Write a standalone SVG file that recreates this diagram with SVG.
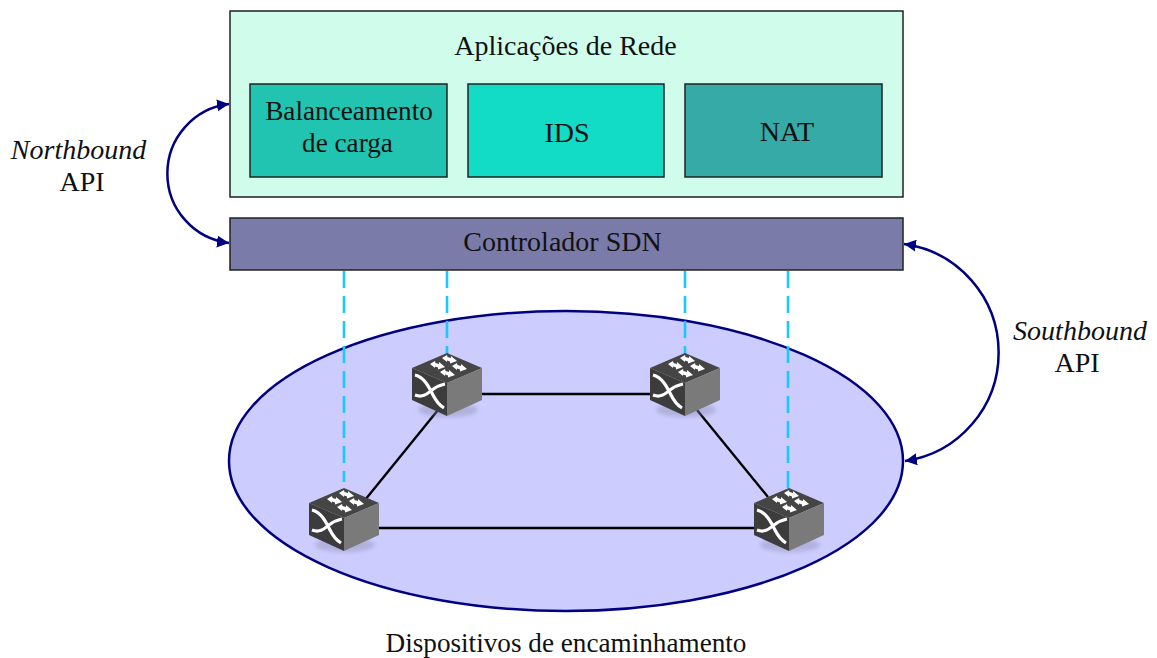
<svg xmlns="http://www.w3.org/2000/svg" width="1157" height="658" viewBox="0 0 1157 658">
<style>
text{font-family:"Liberation Serif","Times New Roman",serif;font-size:28px;fill:#111;text-anchor:middle}
.i{font-style:italic}
.s{font-size:27.200px}
.box{stroke:#222;stroke-width:1.5}
.arc{fill:none;stroke:#000080;stroke-width:2.500}
.dash{stroke:#18c8ff;stroke-width:2.600;stroke-dasharray:17 8;fill:none}
.link{stroke:#000;stroke-width:2.400;fill:none}
</style>
<defs>
<marker id="ah" markerUnits="userSpaceOnUse" markerWidth="13" markerHeight="12" refX="12" refY="6" orient="auto-start-reverse"><path d="M0,0L12,6L0,12Z" fill="#000080"/></marker>
<filter id="sh" x="-20%" y="-40%" width="140%" height="180%"><feGaussianBlur stdDeviation="2"/></filter>
<path id="da" d="M0,0L5,-3L5.500,-1L9,0L9,-2L15,3L8,5.500L8,3.500L5,2.500L5,4Z" fill="#fff"/>
<g id="sw">
<ellipse cx="36" cy="54" rx="30" ry="7" fill="#8888aa" opacity=".4" filter="url(#sh)"/>
<path d="M0,12L35,-3L70,12L35,27Z" fill="#454545"/>
<path d="M0,12L35,27V60L0,44Z" fill="#3c3c3c"/>
<path d="M35,27L70,12V44L35,60Z" fill="#7a7a7a"/>
<use href="#da" x="18" y="8"/><use href="#da" x="30" y="2"/><use href="#da" x="28" y="16"/><use href="#da" x="40" y="10"/>
<path d="M3,19C12,21 17,31 21,39C24,45 27,49 32,52M3,39C11,42 15,38 20,34C24,31 28,29 33,28" fill="none" stroke="#fff" stroke-width="3.200"/>
</g>
</defs>
<g id="apps"><rect class="box" x="230" y="11" width="673" height="186" fill="#d0fcec"/><text x="565.500" y="55">Aplicações de Rede</text></g>
<g id="lb"><rect class="box" x="250" y="84" width="197" height="93" fill="#20c4b0"/><text class="s" x="349" y="120">Balanceamento</text><text class="s" x="347.500" y="152">de carga</text></g>
<g id="ids"><rect class="box" x="468" y="84" width="196" height="93" fill="#12dcc6"/><text x="567" y="142">IDS</text></g>
<g id="nat"><rect class="box" x="685" y="84" width="197" height="93" fill="#36aaa6"/><text x="787" y="141">NAT</text></g>
<g id="ctrl"><rect class="box" x="230" y="218" width="673" height="52" fill="#7b7ba9"/><text x="562.500" y="251">Controlador SDN</text></g>
<g id="devices"><ellipse cx="566" cy="461" rx="337" ry="150" fill="#ccccff" stroke="#000080" stroke-width="2.500"/><text class="s" x="566" y="652">Dispositivos de encaminhamento</text></g>
<g id="connectors">
<path class="dash" d="M344,271V482"/><path class="dash" d="M447,271V356"/><path class="dash" d="M685,271V356"/><path class="dash" d="M788,271V490"/>
<path class="link" d="M482,394H652M438,410L365,500M697,410L768,497M378,528H756"/>
<path class="arc" marker-start="url(#ah)" marker-end="url(#ah)" d="M229,104A70,70 0 0 0 229,243"/>
<path class="arc" marker-start="url(#ah)" marker-end="url(#ah)" d="M904,244A109.600,109.600 0 0 1 905,461"/>
</g>
<use id="s1" href="#sw" x="412" y="356"/>
<use id="s2" href="#sw" x="650" y="356"/>
<use id="s3" href="#sw" x="309" y="491"/>
<use id="s4" href="#sw" x="754" y="491"/>
<g id="north"><text class="i" x="78.500" y="159">Northbound</text><text x="82" y="191">API</text></g>
<g id="south"><text class="i" x="1080" y="340">Southbound</text><text x="1077" y="372">API</text></g>
</svg>
